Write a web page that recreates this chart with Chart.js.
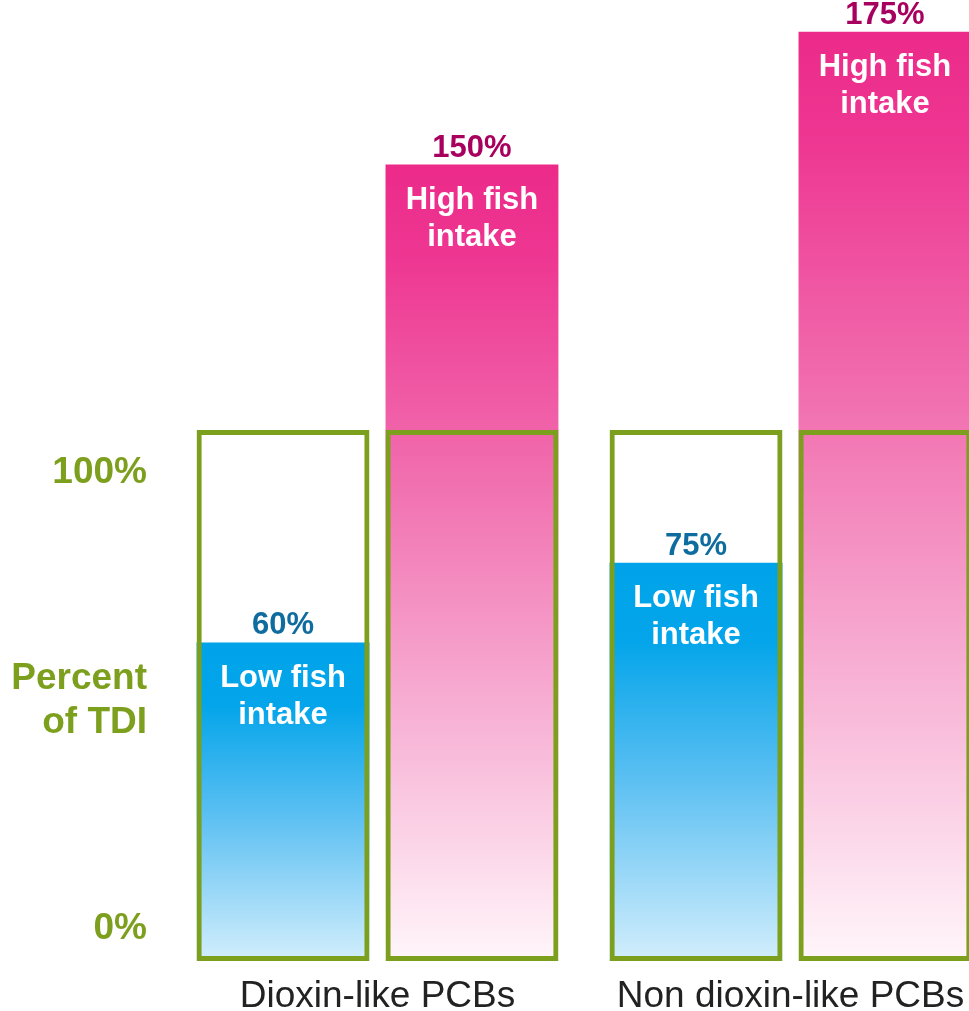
<!DOCTYPE html>
<html>
<head>
<meta charset="utf-8">
<script src="https://cdn.jsdelivr.net/npm/chart.js@4/dist/chart.umd.min.js"></script>
<style>
  html, body { margin: 0; padding: 0; background: #fff; overflow: hidden; }
  canvas { display: block; }
</style>
</head>
<body>
<canvas id="tdi__chart" width="997" height="1011"></canvas>
<script>
const categories = ["Dioxin-like PCBs", "Non dioxin-like PCBs"];
const lowIntake = [60, 75];
const highIntake = [150, 175];
const tdiLimit = [100, 100];
const innerLabels = [["Low fish", "intake"], ["High fish", "intake"]];
const tickValues = [6, 49, 92];
const tickLabels = ["0%", ["Percent", "of TDI"], "100%"];

const green = '#7d9f1e';
const fontFamily = '"Liberation Sans", Arial, sans-serif';

function barGradient(stops) {
  return function (ctx) {
    const chart = ctx.chart;
    if (!chart.chartArea || ctx.parsed == null) return stops[0][1];
    const y = chart.scales.y;
    const top = y.getPixelForValue(ctx.parsed.y);
    const bottom = y.getPixelForValue(0);
    const g = chart.ctx.createLinearGradient(0, top, 0, bottom);
    stops.forEach(s => g.addColorStop(s[0], s[1]));
    return g;
  };
}

const blueFill = barGradient([[0, '#00a3e9'], [0.2, '#04a5ea'], [0.55, '#5dc0f2'], [1, '#d2eefc']]);
const pinkFill = barGradient([[0, '#ec2a89'], [0.12, '#ee3792'], [0.4, '#f170b0'], [0.72, '#f8b7d8'], [1, '#fff6fa']]);

// value labels above the bars and the white text inside them
const barLabels = {
  id: 'barLabels',
  afterDatasetsDraw(chart) {
    const ctx = chart.ctx;
    const sets = [
      { index: 0, values: lowIntake, color: '#0f6c9f', inner: innerLabels[0] },
      { index: 1, values: highIntake, color: '#a8005f', inner: innerLabels[1] },
    ];
    ctx.save();
    ctx.textAlign = 'center';
    sets.forEach(s => {
      const meta = chart.getDatasetMeta(s.index);
      meta.data.forEach((bar, i) => {
        ctx.fillStyle = s.color;
        ctx.font = 'bold 31px ' + fontFamily;
        ctx.textBaseline = 'alphabetic';
        ctx.fillText(s.values[i] + '%', bar.x, bar.y - 8);
        ctx.fillStyle = '#ffffff';
        ctx.font = 'bold 31px ' + fontFamily;
        ctx.textBaseline = 'middle';
        ctx.fillText(s.inner[0], bar.x, bar.y + 36);
        ctx.fillText(s.inner[1], bar.x, bar.y + 73);
      });
    });
    ctx.restore();
  }
};

const chartData = {
  labels: categories,
  datasets: [
    {
      label: "Low fish intake",
      data: lowIntake,
      backgroundColor: blueFill,
      borderWidth: 0,
      stack: 'low',
      order: 1,
    },
    {
      label: "High fish intake",
      data: highIntake,
      backgroundColor: pinkFill,
      borderWidth: 0,
      stack: 'high',
      order: 1,
    },
    {
      label: "TDI low",
      data: tdiLimit,
      backgroundColor: 'rgba(0,0,0,0)',
      borderColor: green,
      borderWidth: 5,
      borderSkipped: false,
      stack: 'low',
      order: 0,
    },
    {
      label: "TDI high",
      data: tdiLimit,
      backgroundColor: 'rgba(0,0,0,0)',
      borderColor: green,
      borderWidth: 5,
      borderSkipped: false,
      stack: 'high',
      order: 0,
    },
  ],
};

const chartOptions = {
  responsive: false,
  animation: false,
  layout: { padding: 0 },
  datasets: {
    bar: {
      categoryPercentage: 0.915,
      barPercentage: 0.915,
    }
  },
  plugins: {
    legend: { display: false },
    tooltip: { enabled: false },
  },
  scales: {
    x: {
      type: 'category',
      grid: { display: false, drawTicks: false },
      border: { display: false },
      ticks: {
        color: '#222222',
        padding: 14,
        maxRotation: 0,
        font: { size: 37, family: fontFamily, weight: 400 },
      },
      afterFit(scale) {
        scale.height = 50;
        scale.paddingLeft = 0;
        scale.paddingRight = 0;
      },
    },
    y: {
      stacked: false,
      min: 0,
      max: 181,
      grid: { display: false, drawTicks: false },
      border: { display: false },
      afterBuildTicks(axis) {
        axis.ticks = tickValues.map(v => ({ value: v }));
      },
      ticks: {
        color: green,
        padding: 24,
        autoSkip: false,
        callback: function (value, index) {
          return tickLabels[index];
        },
        font: { size: 37, family: fontFamily, weight: 'bold', lineHeight: 1.2 },
      },
      afterFit(scale) {
        scale.width = 171;
        scale.paddingTop = 0;
        scale.paddingBottom = 0;
      },
    },
  },
};

const ctx = document.getElementById('tdi__chart').getContext('2d');
new Chart(ctx, {
  type: 'bar',
  data: chartData,
  options: chartOptions,
  plugins: [barLabels],
});
</script>
</body>
</html>
